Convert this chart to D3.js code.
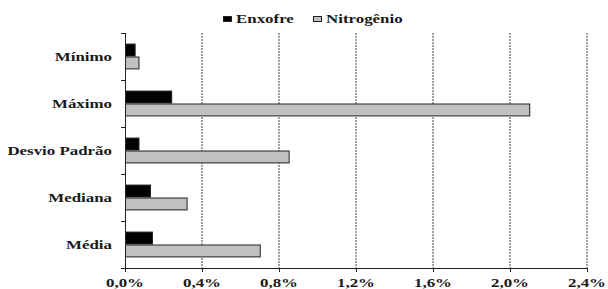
<!DOCTYPE html>
<html>
<head>
<meta charset="utf-8">
<script src="https://cdn.jsdelivr.net/npm/d3@7"></script>
<style>
  body { margin: 0; background: #fff; }
  text { font-family: "Liberation Serif", "Times New Roman", serif; font-weight: bold; fill: #1a1a1a; }
</style>
</head>
<body>
<div id="chart"></div>
<script>
"use strict";

// data (percent)
var categories = ["Mínimo", "Máximo", "Desvio Padrão", "Mediana", "Média"];
var series = ["Enxofre", "Nitrogênio"];
var enxofre = [0.05, 0.24, 0.07, 0.13, 0.14];
var nitrogenio = [0.07, 2.10, 0.85, 0.32, 0.70];
var ticks = [0, 0.4, 0.8, 1.2, 1.6, 2.0, 2.4];
var colors = ["#000000", "#c0c0c0"];

var margin = { top: 33, right: 21, bottom: 21, left: 125 },
    width = 608 - margin.left - margin.right,
    height = 289 - margin.top - margin.bottom;

var stretch = 1.3; // the reference text looks horizontally stretched

var svg = d3.select("#chart")
            .append("svg")
            .attr("width", 608)
            .attr("height", 289);

var g = svg.append("g")
           .attr("transform", "translate(" + margin.left + "," + margin.top + ")");

var x = d3.scaleLinear().domain([0, 2.4]).range([0, width]);
var y = d3.scaleBand().domain(categories).range([0, height])
          .paddingInner(0.45).paddingOuter(0.225);
var ys = d3.scaleBand().domain(series).range([0, y.bandwidth()]);

var rows = categories.map(function (c, i) {
  return { cat: c, values: [enxofre[i], nitrogenio[i]] };
});

// dashed gridlines
g.selectAll(".grid")
 .data(ticks.slice(1))
 .enter()
 .append("line")
 .attr("x1", function (d) { return x(d); })
 .attr("x2", function (d) { return x(d); })
 .attr("y1", 0)
 .attr("y2", height)
 .attr("stroke", "#444")
 .attr("stroke-width", 1)
 .attr("stroke-dasharray", "2,1");

// bars
var rowG = g.selectAll(".row")
            .data(rows)
            .enter()
            .append("g")
            .attr("transform", function (d) { return "translate(0," + y(d.cat) + ")"; });

rowG.selectAll("rect")
    .data(function (d) { return d.values.map(function (v, j) { return { s: series[j], v: v, j: j }; }); })
    .enter()
    .append("rect")
    .attr("x", 0.5)
    .attr("y", function (d) { return ys(d.s) + 0.5; })
    .attr("width", function (d) { return x(d.v); })
    .attr("height", ys.bandwidth() - 1)
    .attr("fill", function (d) { return colors[d.j]; })
    .attr("stroke", "#222")
    .attr("stroke-width", 1);

// left axis
var step = y.step();
var bounds = d3.range(categories.length + 1).map(function (i) { return i * step; });
g.append("line")
 .attr("x1", 0.5).attr("x2", 0.5)
 .attr("y1", 0).attr("y2", height)
 .attr("stroke", "#222");
g.selectAll(".ytick")
 .data(bounds)
 .enter()
 .append("line")
 .attr("x1", -4).attr("x2", 0.5)
 .attr("y1", function (d) { return Math.round(d) + 0.5; })
 .attr("y2", function (d) { return Math.round(d) + 0.5; })
 .attr("stroke", "#222");

g.selectAll(".ylabel")
 .data(categories)
 .enter()
 .append("text")
 .attr("text-anchor", "end")
 .attr("font-size", 13)
 .attr("transform", function (d) {
   return "translate(-13," + (y(d) + y.bandwidth() / 2 + 4) + ") scale(" + stretch + ",1)";
 })
 .text(function (d) { return d; });

// bottom axis
var fmt = function (d) { return d.toFixed(1).replace(".", ",") + "%"; };
g.append("line")
 .attr("x1", 0).attr("x2", width)
 .attr("y1", height + 0.5).attr("y2", height + 0.5)
 .attr("stroke", "#222");
g.selectAll(".xtick")
 .data(ticks)
 .enter()
 .append("line")
 .attr("x1", function (d) { return Math.round(x(d)) + 0.5; })
 .attr("x2", function (d) { return Math.round(x(d)) + 0.5; })
 .attr("y1", height)
 .attr("y2", height + 4)
 .attr("stroke", "#222");
g.selectAll(".xlabel")
 .data(ticks)
 .enter()
 .append("text")
 .attr("text-anchor", "middle")
 .attr("font-size", 13)
 .attr("transform", function (d) {
   return "translate(" + x(d) + "," + (height + 19) + ") scale(" + stretch + ",1)";
 })
 .text(fmt);

// legend
var legendX = [223, 313];
var leg = svg.selectAll(".legend")
             .data(series)
             .enter()
             .append("g")
             .attr("transform", function (d, i) { return "translate(" + legendX[i] + ",19)"; });
leg.append("rect")
   .attr("x", 0.5).attr("y", -2.5)
   .attr("width", 8).attr("height", 5)
   .attr("fill", function (d, i) { return colors[i]; })
   .attr("stroke", "#222");
leg.append("text")
   .attr("font-size", 13)
   .attr("transform", "translate(13,4) scale(" + stretch + ",1)")
   .text(function (d) { return d; });
</script>
</body>
</html>
